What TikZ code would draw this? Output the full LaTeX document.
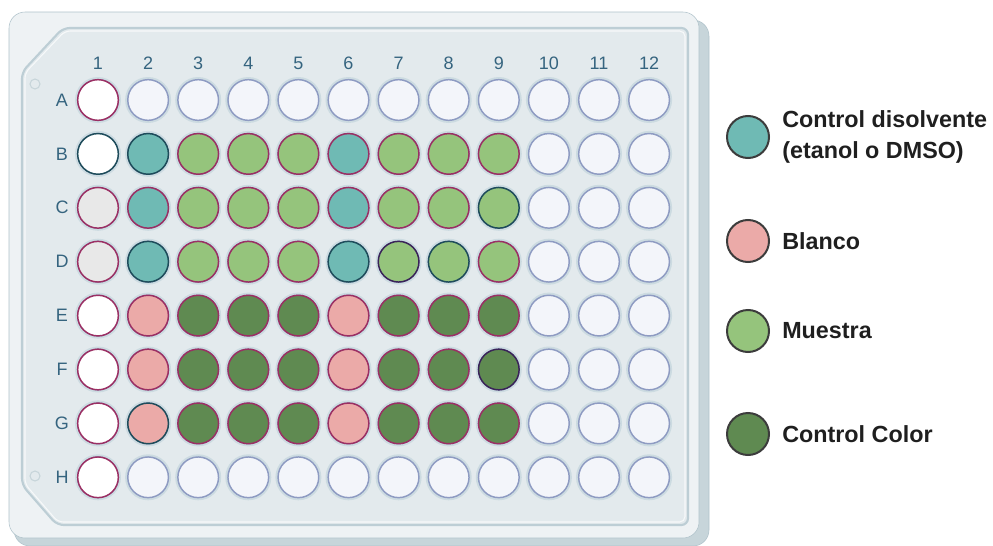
\documentclass[tikz,border=0pt]{standalone}
\usepackage{fontspec}
\setmainfont{Liberation Sans}
\definecolor{plateshadow}{HTML}{C7D5DA}
\definecolor{plateline}{HTML}{AFC2CA}
\definecolor{plateface}{HTML}{EEF2F4}
\definecolor{panelface}{HTML}{E3EAED}
\definecolor{panelline}{HTML}{BDCED5}
\definecolor{labelc}{HTML}{35647F}
\definecolor{haloc}{HTML}{CCDBE1}
\definecolor{emptyc}{HTML}{F3F5FA}
\definecolor{emptyrim}{HTML}{8E9BC2}
\definecolor{rimm}{HTML}{9B2F63}
\definecolor{rimt}{HTML}{1E4C5A}
\definecolor{rimv}{HTML}{3A2358}
\definecolor{grayc}{HTML}{E8E8E8}
\definecolor{tealc}{HTML}{6FBAB4}
\definecolor{pinkc}{HTML}{EBAAA8}
\definecolor{lgreenc}{HTML}{95C47C}
\definecolor{dgreenc}{HTML}{5F8A51}
\definecolor{legline}{HTML}{3C3C3C}
\tikzset{
  halo/.style={circle,inner sep=0pt,minimum size=34.5pt,fill=haloc},
  well/.style={circle,inner sep=0pt,minimum size=30.5pt,line width=1.1pt},
  fillE/.style={fill=emptyc,draw=emptyrim},
  fillW/.style={fill=white},
  fillG/.style={fill=grayc},
  fillT/.style={fill=tealc},
  fillP/.style={fill=pinkc},
  fillL/.style={fill=lgreenc},
  fillD/.style={fill=dgreenc},
  rimm/.style={draw=rimm},
  rimt/.style={draw=rimt},
  rimv/.style={draw=rimv},
  plabel/.style={text=labelc,font=\fontsize{13.5}{15}\selectfont},
  legdot/.style={circle,inner sep=0pt,minimum size=31.5pt,draw=legline,line width=1.5pt},
  legtext/.style={right,inner sep=0pt,align=left,font=\fontsize{17.5}{23}\selectfont\bfseries,text=black!88}
}
\begin{document}
\begin{tikzpicture}[x=0.75pt,y=-0.75pt]
\useasboundingbox (0,0) rectangle (993,546);
% plate body
\draw[plateline,fill=plateshadow,rounded corners=12] (14,20) rectangle (709,546);
\draw[plateline,fill=plateface,rounded corners=12] (9,12) rectangle (699,538);
\draw[panelline,fill=panelface,line width=1.6pt,rounded corners=5]
  (63,28) -- (688,28) -- (688,525) -- (57,525) -- (22,485) -- (22,72) -- cycle;
\draw[white!70!panelface,line width=0.8pt,rounded corners=4]
  (65,31) -- (685,31) -- (685,522) -- (58,522) -- (25,484) -- (25,73) -- cycle;
\draw[plateshadow,line width=0.8pt] (35,84) circle (5) (35,476) circle (5);
% empty wells
\foreach \r [count=\j] in {A,B,C,D,E,F,G,H} {
  \node[plabel] (row-\r) at (62,{100+53.9*(\j-1)}) {\r};
  \foreach \i in {1,...,12} {
    \node[halo] at ({98+50.1*(\i-1)},{100+53.9*(\j-1)}) {};
    \node[well,fillE] (well-\r\i) at ({98+50.1*(\i-1)},{100+53.9*(\j-1)}) {};
  }
}
\foreach \i in {1,...,12}
  \node[plabel] (col-\i) at ({98+50.1*(\i-1)},63) {\i};
% filled wells
\foreach \r/\cells in {
  A/{W/m},
  B/{W/t,T/t,L/m,L/m,L/m,T/m,L/m,L/m,L/m},
  C/{G/m,T/m,L/m,L/m,L/m,T/m,L/m,L/m,L/t},
  D/{G/m,T/t,L/m,L/m,L/m,T/t,L/v,L/t,L/m},
  E/{W/m,P/m,D/m,D/m,D/m,P/m,D/m,D/m,D/m},
  F/{W/m,P/m,D/m,D/m,D/m,P/m,D/m,D/m,D/v},
  G/{W/m,P/t,D/m,D/m,D/m,P/m,D/m,D/m,D/m},
  H/{W/m}} {
  \foreach \f/\k [count=\i] in \cells
    \node[well,fill\f,rim\k] at (well-\r\i) {};
}
% legend
\node[legdot,fill=tealc] (leg-solv) at (748,137) {};
\node[legdot,fill=pinkc] (leg-blank) at (748,241) {};
\node[legdot,fill=lgreenc] (leg-sample) at (748,331) {};
\node[legdot,fill=dgreenc] (leg-color) at (748,434) {};
\node[legtext] at ([xshift=9pt]leg-solv.east) {Control disolvente\\(etanol o DMSO)};
\node[legtext] at ([xshift=9pt]leg-blank.east) {Blanco};
\node[legtext] at ([xshift=9pt]leg-sample.east) {Muestra};
\node[legtext] at ([xshift=9pt]leg-color.east) {Control Color};
\end{tikzpicture}
\end{document}
